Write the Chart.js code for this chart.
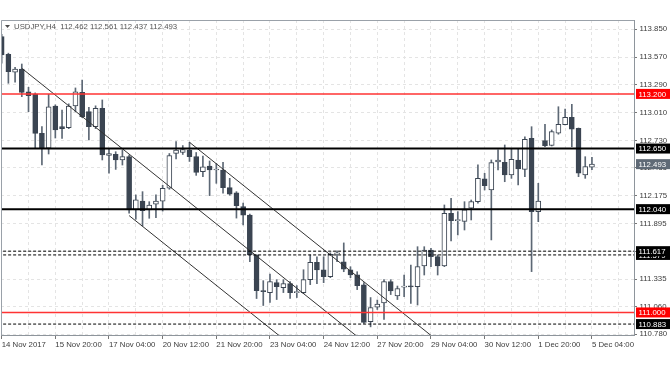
<!DOCTYPE html>
<html>
<head>
<meta charset="utf-8">
<script src="https://cdn.jsdelivr.net/npm/chart.js@4.4.0/dist/chart.umd.min.js"></script>
<style>
  html, body { margin: 0; padding: 0; background: #fff; }
</style>
</head>
<body>
<canvas id="chart" width="672" height="372"></canvas>
<script>
// USDJPY H4 candles, 14 Nov 12:00 .. 5 Dec 04:00
var symbol = 'USDJPY,H4';
var xLabels = ['14 Nov 2017', '15 Nov 20:00', '17 Nov 04:00', '20 Nov 12:00', '21 Nov 20:00', '23 Nov 04:00',
  '24 Nov 12:00', '27 Nov 20:00', '29 Nov 04:00', '30 Nov 12:00', '1 Dec 20:00', '5 Dec 04:00'];

var opens = [113.778, 113.599, 113.418, 113.451, 113.222, 113.199, 112.803, 112.653, 113.078, 112.870,
  112.860, 113.078, 113.216, 113.021, 112.870, 113.055, 112.580, 112.592, 112.535, 112.568,
  112.032, 112.120, 112.032, 112.090, 112.120, 112.250, 112.602, 112.612, 112.635, 112.570,
  112.417, 112.474, 112.434, 112.434, 112.256, 112.205, 112.065, 111.980, 111.579, 111.220,
  111.200, 111.300, 111.250, 111.290, 111.200, 111.200, 111.330, 111.505, 111.430, 111.360,
  111.590, 111.510, 111.428, 111.378, 111.277, 110.908, 111.053, 111.095, 111.310, 111.166,
  111.255, 111.262, 111.260, 111.468, 111.629, 111.562, 111.468, 111.998, 111.924, 111.917,
  112.049, 112.115, 112.344, 112.233, 112.515, 112.512, 112.384, 112.535, 112.441, 112.753,
  112.015, 112.729, 112.681, 112.804, 112.890, 112.963, 112.854, 112.384, 112.462];
var highs = [113.800, 113.610, 113.468, 113.501, 113.267, 113.210, 112.870, 113.196, 113.090, 113.038,
  113.100, 113.260, 113.340, 113.065, 113.080, 113.139, 112.653, 112.618, 112.635, 112.585,
  112.183, 112.216, 112.115, 112.183, 112.280, 112.600, 112.719, 112.680, 112.713, 112.610,
  112.575, 112.525, 112.500, 112.510, 112.350, 112.216, 112.100, 111.990, 111.580, 111.320,
  111.387, 111.330, 111.330, 111.310, 111.270, 111.430, 111.579, 111.560, 111.560, 111.600,
  111.620, 111.700, 111.460, 111.410, 111.300, 111.150, 111.125, 111.330, 111.330, 111.266,
  111.377, 111.478, 111.662, 111.662, 111.646, 111.579, 112.082, 112.149, 112.015, 112.115,
  112.132, 112.485, 112.401, 112.535, 112.636, 112.686, 112.643, 112.653, 112.769, 112.870,
  112.300, 112.894, 112.837, 113.071, 113.048, 113.095, 112.857, 112.568, 112.561];
var lows = [113.510, 113.307, 113.317, 113.172, 113.021, 112.652, 112.484, 112.595, 112.756, 112.753,
  112.850, 113.020, 112.960, 112.736, 112.850, 112.535, 112.401, 112.440, 112.484, 111.999,
  111.938, 111.870, 111.948, 111.955, 112.020, 112.240, 112.545, 112.590, 112.520, 112.380,
  112.367, 112.176, 112.300, 112.200, 112.180, 111.950, 111.880, 111.510, 111.140, 111.070,
  111.100, 111.130, 111.200, 111.140, 111.150, 111.190, 111.280, 111.290, 111.300, 111.350,
  111.510, 111.410, 111.350, 111.230, 110.890, 110.855, 111.030, 110.930, 111.180, 111.130,
  111.159, 111.092, 111.075, 111.377, 111.461, 111.377, 111.461, 111.720, 111.780, 111.830,
  111.931, 112.099, 112.233, 111.730, 112.434, 112.316, 112.350, 112.283, 112.367, 111.411,
  111.914, 112.670, 112.676, 112.794, 112.887, 112.669, 112.367, 112.350, 112.437];
var closes = [113.592, 113.424, 113.451, 113.216, 113.182, 112.803, 112.653, 113.071, 112.837, 112.850,
  113.078, 113.222, 112.970, 112.870, 113.055, 112.585, 112.600, 112.535, 112.568, 112.032,
  112.133, 112.025, 112.082, 112.120, 112.250, 112.580, 112.635, 112.640, 112.568, 112.410,
  112.467, 112.434, 112.436, 112.256, 112.190, 112.075, 111.980, 111.579, 111.220, 111.210,
  111.310, 111.260, 111.290, 111.200, 111.210, 111.330, 111.505, 111.428, 111.360, 111.585,
  111.595, 111.435, 111.378, 111.270, 110.900, 111.050, 111.085, 111.310, 111.217, 111.240,
  111.262, 111.258, 111.461, 111.629, 111.562, 111.468, 111.998, 111.924, 111.926, 112.032,
  112.115, 112.351, 112.276, 112.508, 112.535, 112.384, 112.542, 112.444, 112.743, 112.015,
  112.122, 112.679, 112.820, 112.894, 112.963, 112.844, 112.401, 112.468, 112.493];

var yTicks = [113.850, 113.570, 113.290, 113.010, 112.730, 112.455, 112.175, 111.895, 111.615, 111.335, 111.060, 110.780];

// horizontal levels
var redLevels = [113.200, 111.000];
var blackLevels = [112.650, 112.040];
var dashLevels = [111.579, 111.617, 110.883];

// channel lines [bar index, price]
var channelA = [[3, 113.458], [54, 110.704]];
var channelB = [[19, 111.975], [42, 110.733]];
var channelC = [[28, 112.713], [65, 110.715]];

var DARK = '#3b4552';
var WICK = '#5d6875';
var FONT = 'Liberation Sans';

var idx = opens.map(function (_, i) { return i; });
var bodies = idx.map(function (i) {
  return { x: i, y: [Math.min(opens[i], closes[i]), Math.max(opens[i], closes[i])] };
});
var wicks = idx.map(function (i) { return { x: i, y: [lows[i], highs[i]] }; });
var bodyColors = idx.map(function (i) { return closes[i] >= opens[i] ? '#ffffff' : DARK; });

function levelSet(v, color, width, dash) {
  return {
    type: 'line', data: [{ x: -5, y: v }, { x: 100, y: v }], borderColor: color, borderWidth: width,
    borderDash: dash, pointRadius: 0, order: 0
  };
}
function channelSet(pts) {
  return {
    type: 'line', data: pts.map(function (p) { return { x: p[0], y: p[1] }; }),
    borderColor: '#333', borderWidth: 1, pointRadius: 0, order: 0
  };
}

var datasets = [
  { type: 'bar', data: bodies, backgroundColor: bodyColors, borderColor: DARK, borderWidth: 1,
    borderSkipped: false, barThickness: 5, grouped: false, minBarLength: 1, order: 1 },
  { type: 'bar', data: wicks, backgroundColor: WICK, borderWidth: 0, barThickness: 1,
    grouped: false, order: 2 }
];
redLevels.forEach(function (v) { datasets.push(levelSet(v, '#ff3333', 1.5, [])); });
blackLevels.forEach(function (v) { datasets.push(levelSet(v, '#000000', 2, [])); });
dashLevels.forEach(function (v) { datasets.push(levelSet(v, '#000000', 1, [3, 2])); });
[channelA, channelB, channelC].forEach(function (c) { datasets.push(channelSet(c)); });

var overlay = {
  id: 'overlay',
  afterDraw: function (chart) {
    var ctx = chart.ctx, a = chart.chartArea, y = chart.scales.y;
    ctx.save();
    // frame top/left
    ctx.strokeStyle = '#9aa1a9';
    ctx.lineWidth = 1;
    ctx.beginPath();
    ctx.moveTo(a.left + 0.5, a.bottom);
    ctx.lineTo(a.left + 0.5, a.top + 0.5);
    ctx.lineTo(a.right, a.top + 0.5);
    ctx.stroke();

    // title
    var last = opens.length - 1;
    ctx.fillStyle = '#4a4a4a';
    ctx.beginPath();
    ctx.moveTo(5, 25); ctx.lineTo(10, 25); ctx.lineTo(7.5, 28); ctx.closePath();
    ctx.fill();
    ctx.font = '7.8px "' + FONT + '"';
    ctx.textBaseline = 'middle';
    ctx.textAlign = 'left';
    ctx.fillStyle = '#555';
    ctx.fillText(symbol + '  ' + [opens[last], highs[last], lows[last], closes[last]].map(function (v) { return v.toFixed(3); }).join(' '), 14, 26.5);

    // price tags
    function tag(v, bg) {
      var py = y.getPixelForValue(v);
      ctx.fillStyle = bg;
      ctx.fillRect(636, py - 5, 34, 10);
      ctx.fillStyle = '#fff';
      ctx.fillText(v.toFixed(3), 638.5, py + 0.5);
    }
    redLevels.forEach(function (v) { tag(v, '#ff0000'); });
    blackLevels.forEach(function (v) { tag(v, '#000'); });
    dashLevels.forEach(function (v) { tag(v, '#000'); });
    tag(closes[last], '#5f6a76');
    ctx.restore();
  }
};

new Chart(document.getElementById('chart'), {
  type: 'bar',
  data: { datasets: datasets },
  plugins: [overlay],
  options: {
    responsive: false,
    devicePixelRatio: 1,
    animation: false,
    layout: { padding: { left: 1, top: 20, right: 0, bottom: 0 } },
    plugins: { legend: { display: false }, tooltip: { enabled: false } },
    scales: {
      x: {
        type: 'linear', min: -0.1, max: 94.27, offset: false,
        afterBuildTicks: function (s) {
          var t = [];
          for (var i = 0; i <= 92; i += 4) t.push({ value: i });
          s.ticks = t;
        },
        afterFit: function (s) { s.height = 37; },
        grid: {
          offset: false, color: '#e4e4e4', lineWidth: 1, tickLength: 4,
          tickColor: function (c) { return c.tick && c.tick.value % 8 === 0 ? '#777' : 'rgba(0,0,0,0)'; }
        },
        border: { display: true, color: '#8e959c', width: 1, dash: [3, 3] },
        ticks: {
          autoSkip: false, maxRotation: 0, align: 'start', padding: 1,
          color: '#3c3c3c', font: { family: FONT, size: 7.8 },
          callback: function (v) { return v % 8 === 0 ? (xLabels[v / 8] || '') : ''; }
        }
      },
      y: {
        type: 'linear', position: 'right', min: 110.773, max: 113.944, beginAtZero: false,
        afterBuildTicks: function (s) { s.ticks = yTicks.map(function (v) { return { value: v }; }); },
        afterFit: function (s) { s.width = 38; },
        grid: { color: '#e4e4e4', lineWidth: 1, tickLength: 3, tickColor: '#777' },
        border: { display: true, color: '#8e959c', width: 1, dash: [3, 3] },
        ticks: {
          padding: 2.5, color: '#3c3c3c', font: { family: FONT, size: 7.8 },
          callback: function (v) { return v.toFixed(3); }
        }
      }
    }
  }
});
</script>
</body>
</html>
